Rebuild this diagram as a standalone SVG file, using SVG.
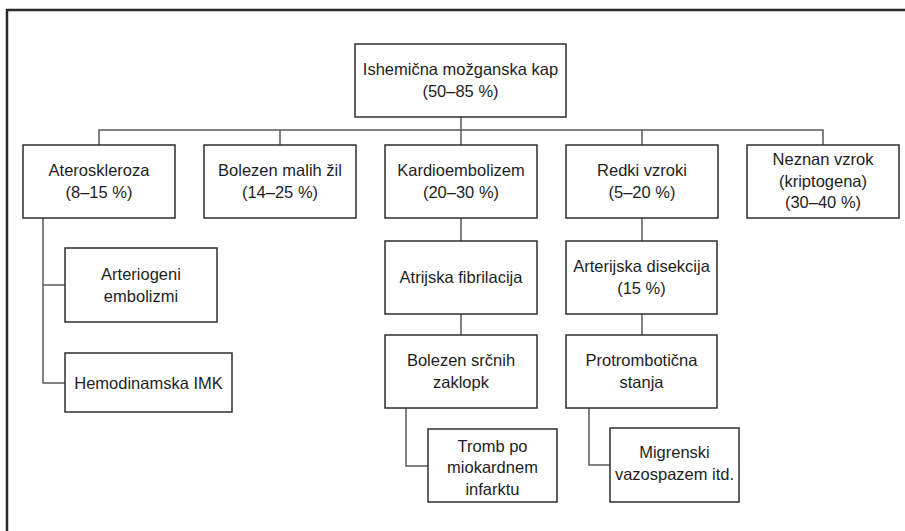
<svg xmlns="http://www.w3.org/2000/svg" width="905" height="531" viewBox="0 0 905 531">
<style>
  .box { fill: #ffffff; stroke: #2e2e2e; stroke-width: 1.5; }
  .t { font-family: "Liberation Sans", Arial, sans-serif; font-size: 16.5px; fill: #1e1e1e; text-anchor: middle; }
  .c { fill: none; stroke: #5a5a5a; stroke-width: 1.5; }
  .frame { fill: none; stroke: #2a2a2a; stroke-width: 2.5; }
</style>
<rect x="0" y="0" width="905" height="531" fill="#ffffff"/>
<path class="frame" d="M7,531 V10 H905"/>
<g id="connectors">
  <path class="c" d="M461,117 V130"/>
  <path class="c" d="M99,145 V130 H823 V145"/>
  <path class="c" d="M280,130 V145"/>
  <path class="c" d="M461,130 V145"/>
  <path class="c" d="M642,130 V145"/>
  <path class="c" d="M461,218 V241"/>
  <path class="c" d="M461,314 V335"/>
  <path class="c" d="M642,218 V241"/>
  <path class="c" d="M642,314 V335"/>
  <path class="c" d="M43,218 V383 H65"/>
  <path class="c" d="M43,285 H65"/>
  <path class="c" d="M406,408 V466 H428"/>
  <path class="c" d="M589,408 V465 H610"/>
</g>
<g id="root">
  <rect class="box" x="355" y="44" width="211" height="73"/>
  <text class="t" x="460.5" y="75">Ishemična možganska kap</text>
  <text class="t" x="460.5" y="97">(50–85 %)</text>
</g>
<g id="ateroskleroza">
  <rect class="box" x="23" y="145" width="152" height="73"/>
  <text class="t" x="99" y="176">Ateroskleroza</text>
  <text class="t" x="99" y="198">(8–15 %)</text>
</g>
<g id="bolezen-malih-zil">
  <rect class="box" x="204" y="145" width="152" height="73"/>
  <text class="t" x="280" y="176">Bolezen malih žil</text>
  <text class="t" x="280" y="198">(14–25 %)</text>
</g>
<g id="kardioembolizem">
  <rect class="box" x="385" y="145" width="152" height="73"/>
  <text class="t" x="461" y="176">Kardioembolizem</text>
  <text class="t" x="461" y="198">(20–30 %)</text>
</g>
<g id="redki-vzroki">
  <rect class="box" x="566" y="145" width="152" height="73"/>
  <text class="t" x="642" y="176">Redki vzroki</text>
  <text class="t" x="642" y="198">(5–20 %)</text>
</g>
<g id="neznan-vzrok">
  <rect class="box" x="747" y="145" width="152" height="73"/>
  <text class="t" x="823" y="165">Neznan vzrok</text>
  <text class="t" x="823" y="187">(kriptogena)</text>
  <text class="t" x="823" y="208">(30–40 %)</text>
</g>
<g id="arteriogeni-embolizmi">
  <rect class="box" x="65" y="248" width="152" height="74"/>
  <text class="t" x="141" y="280">Arteriogeni</text>
  <text class="t" x="141" y="302">embolizmi</text>
</g>
<g id="hemodinamska-imk">
  <rect class="box" x="65" y="353" width="167" height="59"/>
  <text class="t" x="148.5" y="388.5">Hemodinamska IMK</text>
</g>
<g id="atrijska-fibrilacija">
  <rect class="box" x="385" y="241" width="152" height="73"/>
  <text class="t" x="461" y="283">Atrijska fibrilacija</text>
</g>
<g id="bolezen-srcnih-zaklopk">
  <rect class="box" x="385" y="335" width="152" height="73"/>
  <text class="t" x="461" y="366">Bolezen srčnih</text>
  <text class="t" x="461" y="388">zaklopk</text>
</g>
<g id="tromb">
  <rect class="box" x="428" y="429" width="129" height="73"/>
  <text class="t" x="492.5" y="451.5">Tromb po</text>
  <text class="t" x="492.5" y="473">miokardnem</text>
  <text class="t" x="492.5" y="494.5">infarktu</text>
</g>
<g id="arterijska-disekcija">
  <rect class="box" x="566" y="241" width="151" height="73"/>
  <text class="t" x="641.5" y="272">Arterijska disekcija</text>
  <text class="t" x="641.5" y="294">(15 %)</text>
</g>
<g id="protromboticna-stanja">
  <rect class="box" x="566" y="335" width="151" height="73"/>
  <text class="t" x="641.5" y="366">Protrombotična</text>
  <text class="t" x="641.5" y="388">stanja</text>
</g>
<g id="migrenski-vazospazem">
  <rect class="box" x="610" y="428" width="129" height="74"/>
  <text class="t" x="674.5" y="458">Migrenski</text>
  <text class="t" x="674.5" y="480">vazospazem itd.</text>
</g>
</svg>
